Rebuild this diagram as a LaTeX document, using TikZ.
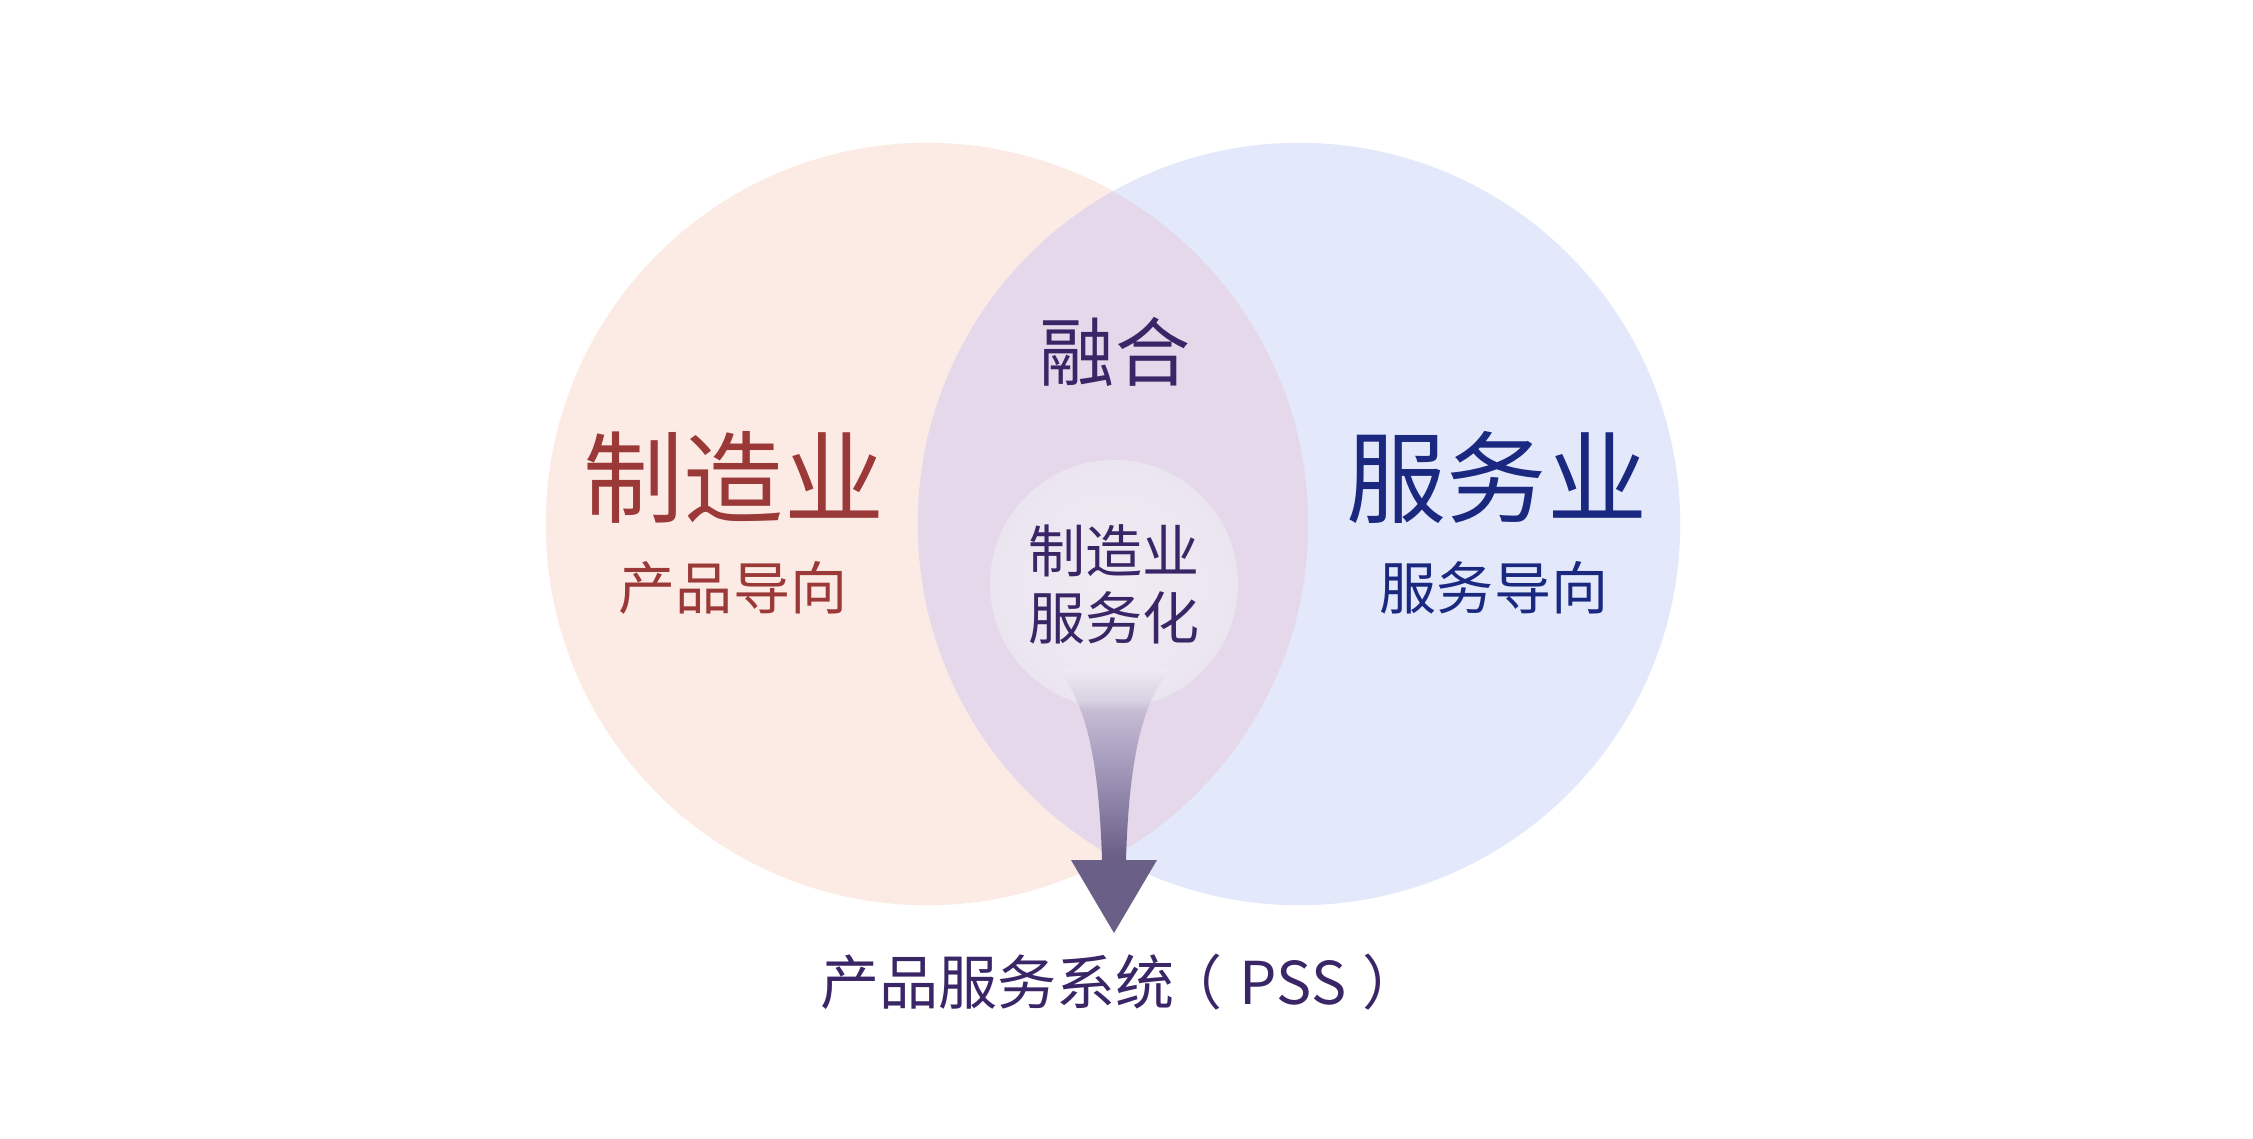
\documentclass[tikz,border=0pt]{standalone}
\usepackage{fontspec}
\newfontfamily\cjk{Noto Sans CJK SC}
\usetikzlibrary{shapes.geometric}
\definecolor{cirL}{RGB}{252,235,228}
\definecolor{cirR}{RGB}{227,233,251}
\definecolor{cirO}{RGB}{228,216,234}
\definecolor{cirS}{RGB}{240,236,243}
\definecolor{cirSedge}{RGB}{234,229,239}
\definecolor{redtxt}{RGB}{155,56,56}
\definecolor{bluetxt}{RGB}{26,40,128}
\definecolor{purtxt}{RGB}{58,38,102}
\definecolor{stemB}{RGB}{104,92,133}
\definecolor{stemM}{RGB}{154,143,178}
\definecolor{stemC}{RGB}{198,188,213}
\definecolor{stemD}{RGB}{216,210,226}
\definecolor{stemT}{RGB}{238,234,242}
\definecolor{headc}{RGB}{106,95,135}
\pgfdeclareverticalshading{stemsh}{100bp}{color(0bp)=(stemB); color(25bp)=(stemB); color(45bp)=(stemM); color(64bp)=(stemC); color(66.5bp)=(stemD); color(75bp)=(stemT); color(100bp)=(stemT)}
\tikzset{
  lbl/.style={inner sep=0pt, anchor=center},
  bigfont/.style={font=\cjk\fontsize{28.45pt}{34pt}\selectfont},
  subfont/.style={font=\cjk\fontsize{16.22pt}{19.06pt}\selectfont},
  midfont/.style={font=\cjk\fontsize{21.34pt}{25pt}\selectfont},
  pssfont/.style={font=\cjk\fontsize{16.79pt}{20pt}\selectfont},
  venn/.style={circle, inner sep=0pt, minimum size=7.62cm},
}
\begin{document}
\begin{tikzpicture}[x=0.01cm, y=-0.01cm]
\useasboundingbox (0,0) rectangle (2253,1138);
\fill[white] (0,0) rectangle (2253,1138);
% Venn circles
\node[venn, fill=cirL] (left) at (927,524) {};
\node[venn, fill=cirR] (right) at (1299,524) {};
\begin{scope}
  \clip (927,524) circle [radius=3.81cm];
  \fill[cirO] (1299,524) circle [radius=3.81cm];
\end{scope}
% inner circle
\node[circle, inner sep=0pt, minimum size=2.48cm, inner color=cirS, outer color=cirSedge] (inner) at (1114,584) {};
% arrow stem (from inner circle to PSS)
\coordinate (stemtopL) at (1056,668);
\coordinate (stemtopR) at (1172,668);
\coordinate (stembotL) at (1102,860);
\coordinate (stembotR) at (1126,860);
\shade[shading=stemsh] (stemtopL) .. controls (1086,700) and (1099,760) .. (stembotL) -- (stembotR) .. controls (1129,760) and (1142,700) .. (stemtopR) -- cycle;
\coordinate (headL) at (1071,860);
\coordinate (headR) at (1157,860);
\coordinate (tip) at (1114,933);
\fill[headc] (headL) -- (headR) -- (tip) -- cycle;
% texts
\node[lbl, midfont, text=purtxt] (ronghe) at (1115,352) {融合};
\node[lbl, bigfont, text=redtxt] (zzy) at (734,477) {制造业};
\node[lbl, subfont, text=redtxt] (cpdx) at (733,588) {产品导向};
\node[lbl, bigfont, text=bluetxt] (fwy) at (1497,477) {服务业};
\node[lbl, subfont, text=bluetxt] (fwdx) at (1494,588) {服务导向};
\node[lbl, subfont, text=purtxt, align=center] (fwh) at (1114,584) {制造业\\服务化};
\node[lbl, pssfont, text=purtxt, anchor=west] (pss) at (820,982) {产品服务系统\hspace{-0.2em}（\hspace{0.3em}PSS\hspace{0.27em}）};
\end{tikzpicture}
\end{document}
